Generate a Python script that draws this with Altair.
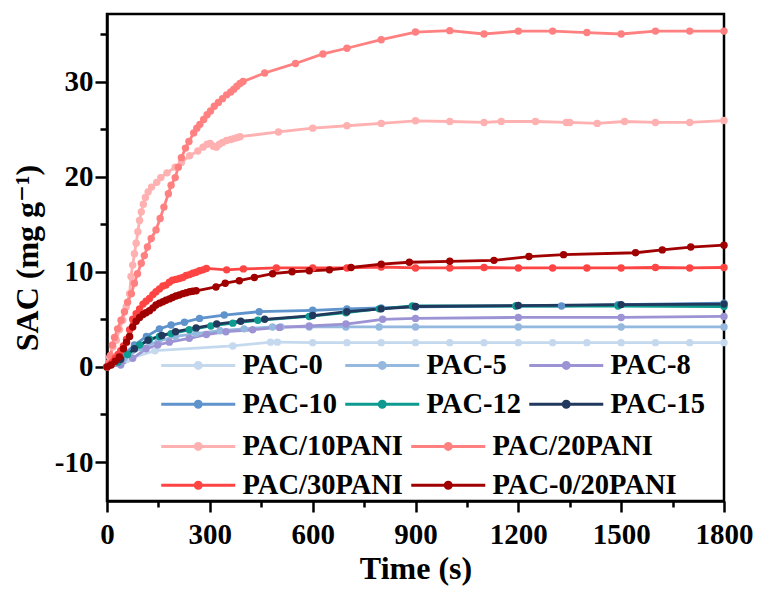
import altair as alt
import pandas as pd

# ---- adsorption kinetics: time (s) vs SAC (mg g^-1) ----
t_pac0 = [0, 60, 140, 367, 477, 497, 600, 700, 800, 900, 1000, 1100, 1200, 1300, 1400, 1500, 1600, 1700, 1800]
v_pac0 = [0, 0.8, 1.7, 2.2, 2.6, 2.6, 2.55, 2.55, 2.55, 2.55, 2.55, 2.55, 2.55, 2.55, 2.55, 2.55, 2.55, 2.55, 2.55]

t_pac5 = [0, 50, 100, 150, 200, 260, 330, 400, 483, 507, 590, 697, 794, 900, 1200, 1500, 1800]
v_pac5 = [0, 0.9, 2.0, 2.7, 3.2, 3.5, 3.8, 4.0, 4.2, 4.2, 4.2, 4.2, 4.2, 4.2, 4.2, 4.2, 4.2]

t_pac8 = [0, 40, 75, 114, 148, 182, 240, 290, 347, 425, 503, 590, 697, 804, 900, 1200, 1500, 1800]
v_pac8 = [0, 0.2, 0.9, 1.9, 2.3, 2.6, 3.0, 3.4, 3.7, 3.9, 4.15, 4.3, 4.5, 5.0, 5.1, 5.2, 5.2, 5.3]

t_pac10 = [0, 40, 80, 115, 153, 187, 226, 270, 342, 444, 600, 700, 800, 900, 1193, 1326, 1491, 1800]
v_pac10 = [0, 1.0, 2.3, 3.2, 4.0, 4.4, 4.7, 5.1, 5.45, 5.8, 5.95, 6.1, 6.2, 6.3, 6.4, 6.4, 6.55, 6.7]

t_pac12 = [0, 32, 60, 95, 124, 153, 187, 240, 303, 367, 440, 590, 697, 794, 891, 1193, 1491, 1800]
v_pac12 = [0, 0.5, 1.3, 2.3, 2.9, 3.2, 3.5, 3.9, 4.3, 4.6, 4.9, 5.3, 5.7, 6.1, 6.4, 6.4, 6.4, 6.35]

t_pac15 = [0, 40, 80, 120, 160, 200, 260, 320, 390, 460, 600, 700, 800, 900, 1200, 1500, 1800]
v_pac15 = [0, 0.8, 1.9, 2.8, 3.3, 3.7, 4.1, 4.5, 4.8, 5.0, 5.4, 5.8, 6.1, 6.35, 6.45, 6.55, 6.6]

t_p10 = [0, 8, 17, 27, 36, 46, 56, 66, 70, 75, 80, 85, 90, 95, 100, 106, 112, 120, 130, 145,
         157, 175, 199, 217, 241, 265, 280, 292, 301, 310, 319, 328, 337, 349, 361, 370, 379, 388,
         500, 600, 700, 800, 900, 1000, 1100, 1150, 1250, 1340, 1350, 1430, 1510, 1600, 1700, 1800]
v_p10 = [0, 1.0, 2.1, 2.8, 3.9, 4.9, 6.3, 7.7, 9.5, 10.7, 11.9, 13.0, 14.2, 15.4, 16.3, 17.1, 17.8, 18.4, 18.9, 19.4,
         19.9, 20.4, 21.0, 21.5, 22.2, 22.7, 23.1, 23.4, 23.5, 23.2, 23.1, 23.4, 23.6, 23.8, 23.9, 24.0, 24.1, 24.2,
         24.7, 25.1, 25.35, 25.6, 25.87, 25.8, 25.7, 25.8, 25.8, 25.7, 25.7, 25.6, 25.8, 25.7, 25.7, 25.9]

t_p20 = [0, 5, 10, 16, 22, 31, 41, 51, 60, 71, 80, 89, 100, 109, 118, 129, 143, 155, 166, 179,
         187, 199, 208, 217, 229, 239, 253, 262, 271, 282, 292, 302, 313, 325, 337, 349, 361, 370,
         379, 388, 397, 460, 550, 630, 700, 800, 900, 1000, 1100, 1200, 1300, 1400, 1500, 1600, 1700, 1800]
v_p20 = [0, 0.4, 1.2, 2.3, 3.1, 4.0, 4.9, 5.8, 6.8, 7.7, 8.8, 9.8, 10.9, 11.7, 12.6, 13.5, 14.4, 15.6, 16.8, 18.2,
         19.1, 19.9, 21.0, 22.0, 23.0, 23.7, 24.6, 25.1, 25.5, 26.0, 26.5, 26.9, 27.4, 27.8, 28.2, 28.6, 28.9, 29.2,
         29.5, 29.8, 30.0, 30.9, 31.9, 32.9, 33.5, 34.4, 35.2, 35.35, 35.0, 35.3, 35.3, 35.15, 35.0, 35.3, 35.3, 35.3]

t_p30 = [0, 8, 16, 24, 32, 40, 48, 57, 66, 75, 85, 95, 105, 114, 124, 134, 143, 153, 163, 172,
         182, 191, 201, 211, 221, 231, 241, 250, 260, 270, 280, 290, 349, 398, 494, 600, 700, 800,
         900, 1000, 1100, 1200, 1300, 1400, 1500, 1600, 1700, 1800]
v_p30 = [0, 0.2, 0.5, 0.9, 1.3, 1.7, 2.2, 2.9, 3.9, 5.0, 5.6, 6.1, 6.6, 6.9, 7.2, 7.6, 7.9, 8.2, 8.5, 8.6,
         8.9, 9.1, 9.2, 9.3, 9.4, 9.6, 9.7, 9.85, 9.95, 10.1, 10.2, 10.35, 10.2, 10.3, 10.4, 10.4, 10.4, 10.5,
         10.4, 10.4, 10.45, 10.4, 10.4, 10.4, 10.4, 10.45, 10.4, 10.45]

t_p0_20 = [0, 12, 24, 36, 48, 57, 66, 75, 85, 95, 105, 114, 124, 134, 143, 153, 163, 172, 182, 191,
           201, 211, 221, 231, 241, 250, 260, 318, 345, 386, 430, 483, 540, 590, 649, 712, 800, 882,
           1000, 1129, 1231, 1332, 1542, 1620, 1703, 1800]
v_p0_20 = [0, 0.2, 0.6, 1.05, 1.9, 2.6, 3.2, 4.2, 4.8, 5.2, 5.5, 5.7, 5.9, 6.2, 6.5, 6.7, 6.85, 7.0, 7.15, 7.3,
           7.45, 7.55, 7.7, 7.8, 7.9, 7.95, 8.0, 8.4, 8.8, 9.06, 9.4, 9.8, 10.0, 10.1, 10.2, 10.45, 10.8, 11.0,
           11.1, 11.2, 11.6, 11.8, 12.0, 12.3, 12.6, 12.8]

names_a = ["PAC-0", "PAC-5", "PAC-8", "PAC-10", "PAC-12", "PAC-15"]
colors_a = ["#c5d9ee", "#94b8de", "#9c93d4", "#5f93cc", "#0d9a90", "#20395c"]
names_b = ["PAC/10PANI", "PAC/20PANI", "PAC/30PANI", "PAC-0/20PANI"]
colors_b = ["#ffb0b0", "#ff8080", "#ff4444", "#a00000"]

series_a = [(t_pac0, v_pac0), (t_pac5, v_pac5), (t_pac8, v_pac8),
            (t_pac10, v_pac10), (t_pac12, v_pac12), (t_pac15, v_pac15)]
series_b = [(t_p10, v_p10), (t_p20, v_p20), (t_p30, v_p30), (t_p0_20, v_p0_20)]


def frame(names, series):
    rows = []
    for k, (name, (ts, vs)) in enumerate(zip(names, series)):
        for i, (t, v) in enumerate(zip(ts, vs)):
            rows.append({"sample": name, "k": k, "i": i, "time": t, "sac": v})
    return pd.DataFrame(rows)


df_a = frame(names_a, series_a)
df_b = frame(names_b, series_b)

FONT = "Liberation Serif, Times New Roman, DejaVu Serif, serif"
# line with a dot in the middle, as a legend glyph
GLYPH = "M-3.7,0L3.7,0M-0.3,0A0.3,0.3,0,1,0,0.3,0A0.3,0.3,0,1,0,-0.3,0Z"

x_enc = alt.X(
    "time:Q",
    scale=alt.Scale(domain=[0, 1800], nice=False, zero=False),
    axis=alt.Axis(
        title="Time (s)",
        values=list(range(0, 1801, 150)),
        labelExpr="datum.value % 300 === 0 ? '' + datum.value : ''",
        tickSize={"condition": {"test": "datum.value % 300 === 0", "value": 11}, "value": 6},
        labelFlush=False,
        labelPadding=8,
        titlePadding=4,
    ),
)
y_enc = alt.Y(
    "sac:Q",
    scale=alt.Scale(domain=[-14.1, 37.1], nice=False, zero=False),
    axis=alt.Axis(
        title="SAC (mg g⁻¹)",
        values=list(range(-10, 36, 5)),
        labelExpr="datum.value % 10 === 0 ? '' + datum.value : ''",
        tickSize={"condition": {"test": "datum.value % 10 === 0", "value": 12}, "value": 7},
        labelFlush=False,
        labelPadding=2,
        titlePadding=10,
    ),
)


def group(df, names, colors, lx, ly, ncol):
    color = alt.Color(
        "sample:N",
        scale=alt.Scale(domain=names, range=colors),
        sort=names,
        legend=alt.Legend(
            title=None,
            orient="none",
            legendX=lx,
            legendY=ly,
            columns=ncol,
            direction="horizontal",
            gridAlign="each",
            symbolType=GLYPH,
            symbolSize=400,
            symbolStrokeWidth=3,
            labelFont=FONT,
            labelFontWeight="bold",
            labelFontSize=28.5,
            labelColor="black",
            labelOffset=30,
            labelLimit=400,
            rowPadding=10,
            columnPadding=2,
            padding=0,
        ),
    )
    base = alt.Chart(df).encode(x=x_enc, y=y_enc, color=color)
    line = base.mark_line(strokeWidth=2.8).encode(detail="sample:N", order="i:Q")
    pts = base.mark_point(filled=True, size=55, opacity=1)
    return alt.layer(line, pts)


chart = (
    alt.layer(
        group(df_a, names_a, colors_a, 77, 337, 3),
        group(df_b, names_b, colors_b, 77, 418, 2),
    )
    .resolve_scale(color="independent")
    .properties(
        width=617,
        height=487,
        autosize="none",
        padding={"left": 107, "top": 14, "right": 34, "bottom": 89},
        background="white",
    )
    .configure_view(stroke="black", strokeWidth=2.5)
    .configure_axis(
        domainColor="black",
        domainWidth=2.5,
        tickColor="black",
        tickWidth=2.5,
        grid=False,
        labelFont=FONT,
        labelFontWeight="bold",
        labelFontSize=29,
        labelColor="black",
        titleFont=FONT,
        titleFontWeight="bold",
        titleFontSize=32,
        titleColor="black",
    )
    .configure_legend(
        labelFont=FONT,
        labelFontWeight="bold",
        labelFontSize=28.5,
        labelColor="black",
    )
)

chart.save("out.html", embed_options={"renderer": "svg", "actions": False})
